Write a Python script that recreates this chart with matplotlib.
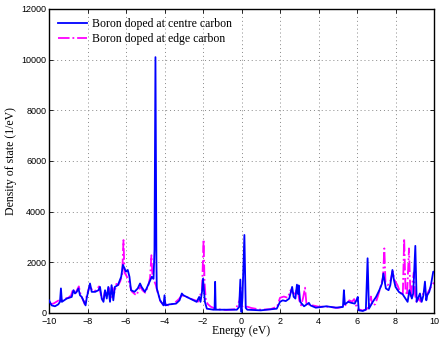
import matplotlib
matplotlib.use("Agg")
import matplotlib.pyplot as plt

# Boron doped at centre carbon
x_centre = [-10.0, -9.86, -9.69, -9.52, -9.43, -9.38, -9.33, -9.08, -8.82, -8.73, -8.65, -8.56,
            -8.47, -8.39, -8.3, -8.18, -8.1, -8.04, -7.87, -7.78, -7.6, -7.43, -7.35, -7.26,
            -7.17, -7.09, -7.0, -6.92, -6.83, -6.75, -6.66, -6.58, -6.42, -6.25, -6.16, -6.08,
            -6.0, -5.91, -5.82, -5.74, -5.56, -5.39, -5.27, -5.19, -5.02, -4.93, -4.74, -4.66,
            -4.57, -4.52, -4.47, -4.42, -4.40, -4.23, -4.05, -4.0, -3.95, -3.75, -3.4, -3.22,
            -3.1, -3.02, -2.85, -2.68, -2.5, -2.33, -2.2, -2.13, -2.05, -2.0, -1.95, -1.9,
            -1.8, -1.46, -1.4, -1.37, -1.34, -0.76, -0.24, -0.12, -0.06, -0.02, 0.0, 0.05,
            0.15, 0.22, 0.3, 1.0, 1.83, 2.0, 2.14, 2.3, 2.48, 2.63, 2.71, 2.8, 2.88, 2.94,
            2.97, 3.05, 3.25, 3.5, 3.58, 3.86, 4.4, 4.9, 5.27, 5.32, 5.37, 5.54, 5.71, 5.88,
            5.97, 6.04, 6.09, 6.3, 6.46, 6.55, 6.62, 6.82, 6.99, 7.16, 7.3, 7.37, 7.44, 7.5,
            7.64, 7.73, 7.84, 7.92, 8.0, 8.18, 8.37, 8.46, 8.63, 8.72, 8.85, 8.92, 9.03, 9.1,
            9.27, 9.36, 9.45, 9.53, 9.6, 9.65, 9.75, 9.84, 9.96, 10.0]
y_centre = [500, 300, 265, 340, 440, 970, 440, 570, 635, 900, 770, 835,
            970, 700, 635, 440, 300, 600, 1165, 835, 835, 900, 1030, 570,
            440, 900, 570, 1030, 440, 1100, 500, 1030, 1100, 1430, 1900, 1760,
            1630, 1700, 1430, 900, 835, 970, 1165, 1030, 835, 970, 1300, 1430,
            1350, 2500, 10100, 2000, 970, 500, 300, 700, 300, 340, 370, 500,
            770, 700, 635, 570, 500, 440, 635, 440, 850, 1360, 900, 440,
            170, 130, 130, 1230, 130, 130, 130, 240, 1320, 200, 40, 600,
            3080, 200, 130, 105, 170, 440, 500, 470, 570, 1030, 640, 570, 1120, 750,
            1090, 440, 265, 400, 300, 210, 265, 210, 240, 900, 340, 440, 400, 370,
            500, 635, 105, 80, 130, 2160, 170, 440, 635, 900, 1165, 1560, 1230, 970,
            900, 1100, 1700, 1300, 1030, 830, 740, 635, 440, 900, 570, 770, 2650, 440,
            770, 440, 700, 1240, 500, 700, 830, 1100, 1630, 1630]

# Boron doped at edge carbon
x_edge = [-10.0, -9.9, -9.75, -9.6, -9.45, -9.35, -9.2, -9.0, -8.85, -8.75, -8.65, -8.55,
          -8.45, -8.35, -8.25, -8.15, -8.05, -7.9, -7.8, -7.65, -7.5, -7.4, -7.3, -7.2,
          -7.1, -7.0, -6.9, -6.8, -6.7, -6.6, -6.5, -6.4, -6.3, -6.2, -6.13, -6.08,
          -6.0, -5.9, -5.8, -5.7, -5.55, -5.45, -5.35, -5.25, -5.15, -5.0, -4.85, -4.75,
          -4.68, -4.62, -4.55, -4.45, -4.35, -4.2, -4.05, -3.95, -3.8, -3.5, -3.25, -3.1,
          -2.95, -2.8, -2.6, -2.4, -2.25, -2.15, -2.05, -1.97, -1.92, -1.85, -1.75, -1.6,
          -1.3, -0.8, -0.3, -0.1, -0.05, 0.0, 0.1, 0.3, 0.5, 1.0, 1.5, 1.85,
          2.0, 2.2, 2.4, 2.55, 2.65, 2.8, 2.9, 3.0, 3.1, 3.2, 3.3, 3.38,
          3.5, 3.7, 4.0, 4.5, 5.0, 5.3, 5.45, 5.6, 5.75, 5.85, 5.95, 6.05,
          6.3, 6.5, 6.65, 6.72, 6.8, 6.95, 7.1, 7.25, 7.35, 7.42, 7.48, 7.6,
          7.75, 7.85, 7.95, 8.1, 8.25, 8.38, 8.45, 8.52, 8.6, 8.7, 8.78, 8.88,
          8.95, 9.02, 9.1, 9.2, 9.3, 9.45, 9.6, 9.75, 9.9, 10.0]
y_edge = [420, 350, 380, 450, 520, 480, 560, 600, 700, 950, 750, 900,
          1050, 700, 550, 350, 650, 1050, 950, 850, 950, 1050, 700, 450,
          850, 700, 1000, 550, 1000, 800, 1150, 1100, 1250, 1500, 2880, 1600,
          1500, 1350, 1100, 850, 750, 700, 900, 1050, 900, 800, 1050, 1400,
          2280, 1400, 1300, 1100, 800, 450, 320, 350, 300, 380, 550, 700,
          650, 620, 550, 500, 450, 700, 900, 2900, 1200, 500, 350, 250,
          150, 120, 150, 500, 1000, 300, 200, 250, 200, 130, 150, 250,
          600, 650, 600, 900, 800, 750, 1050, 500, 300, 600, 1000, 300,
          350, 300, 250, 250, 200, 250, 350, 500, 450, 550, 300, 150,
          100, 150, 300, 650, 300, 350, 700, 1100, 1400, 2550, 1200, 1100,
          1300, 1650, 1300, 1100, 800, 700, 2950, 900, 700, 2550, 600, 1200,
          1600, 700, 400, 600, 450, 800, 700, 900, 1100, 1200]

x_ticks = [-10, -8, -6, -4, -2, 0, 2, 4, 6, 8, 10]
y_ticks = [0, 2000, 4000, 6000, 8000, 10000, 12000]

fig = plt.figure(figsize=(4.4, 3.38), dpi=100)
ax = fig.add_axes([49/440, 1 - 313/338, 385/440, 304/338])

ax.plot(x_centre, y_centre, color='#0000ff', lw=1.3, label='Boron doped at centre carbon', zorder=3)
ax.plot(x_edge, y_edge, color='#ff00ff', lw=1.3, ls='-.', label='Boron doped at edge carbon', zorder=2)

ax.set_xlim(-10, 10)
ax.set_ylim(0, 12000)
ax.set_xticks(x_ticks)
ax.set_yticks(y_ticks)
ax.set_xticklabels(['\u221210', '\u22128', '\u22126', '\u22124', '\u22122', '0', '2', '4', '6', '8', '10'])
ax.tick_params(direction='in', top=True, right=True, labelsize=6.5, length=3, width=0.6)
ax.tick_params(axis='x', pad=3)
ax.tick_params(axis='y', pad=2)
for lab in ax.get_xticklabels() + ax.get_yticklabels():
    lab.set_fontfamily('Liberation Sans')
ax.grid(True, ls=(0, (1, 3)), color='#888888', lw=0.7)
for s in ax.spines.values():
    s.set_linewidth(1.0)

ax.set_xlabel('Energy (eV)', family='Liberation Serif', fontsize=8.5, labelpad=-0.5)
ax.set_ylabel('Density of state (1/eV)', family='Liberation Serif', fontsize=8.5, labelpad=3)

leg = ax.legend(loc='upper left', frameon=False, prop={'family': 'Liberation Serif', 'size': 8.5},
                handlelength=2.4, handletextpad=0.4, labelspacing=0.2, borderaxespad=0.4)

fig.savefig('out.png', dpi=100)
